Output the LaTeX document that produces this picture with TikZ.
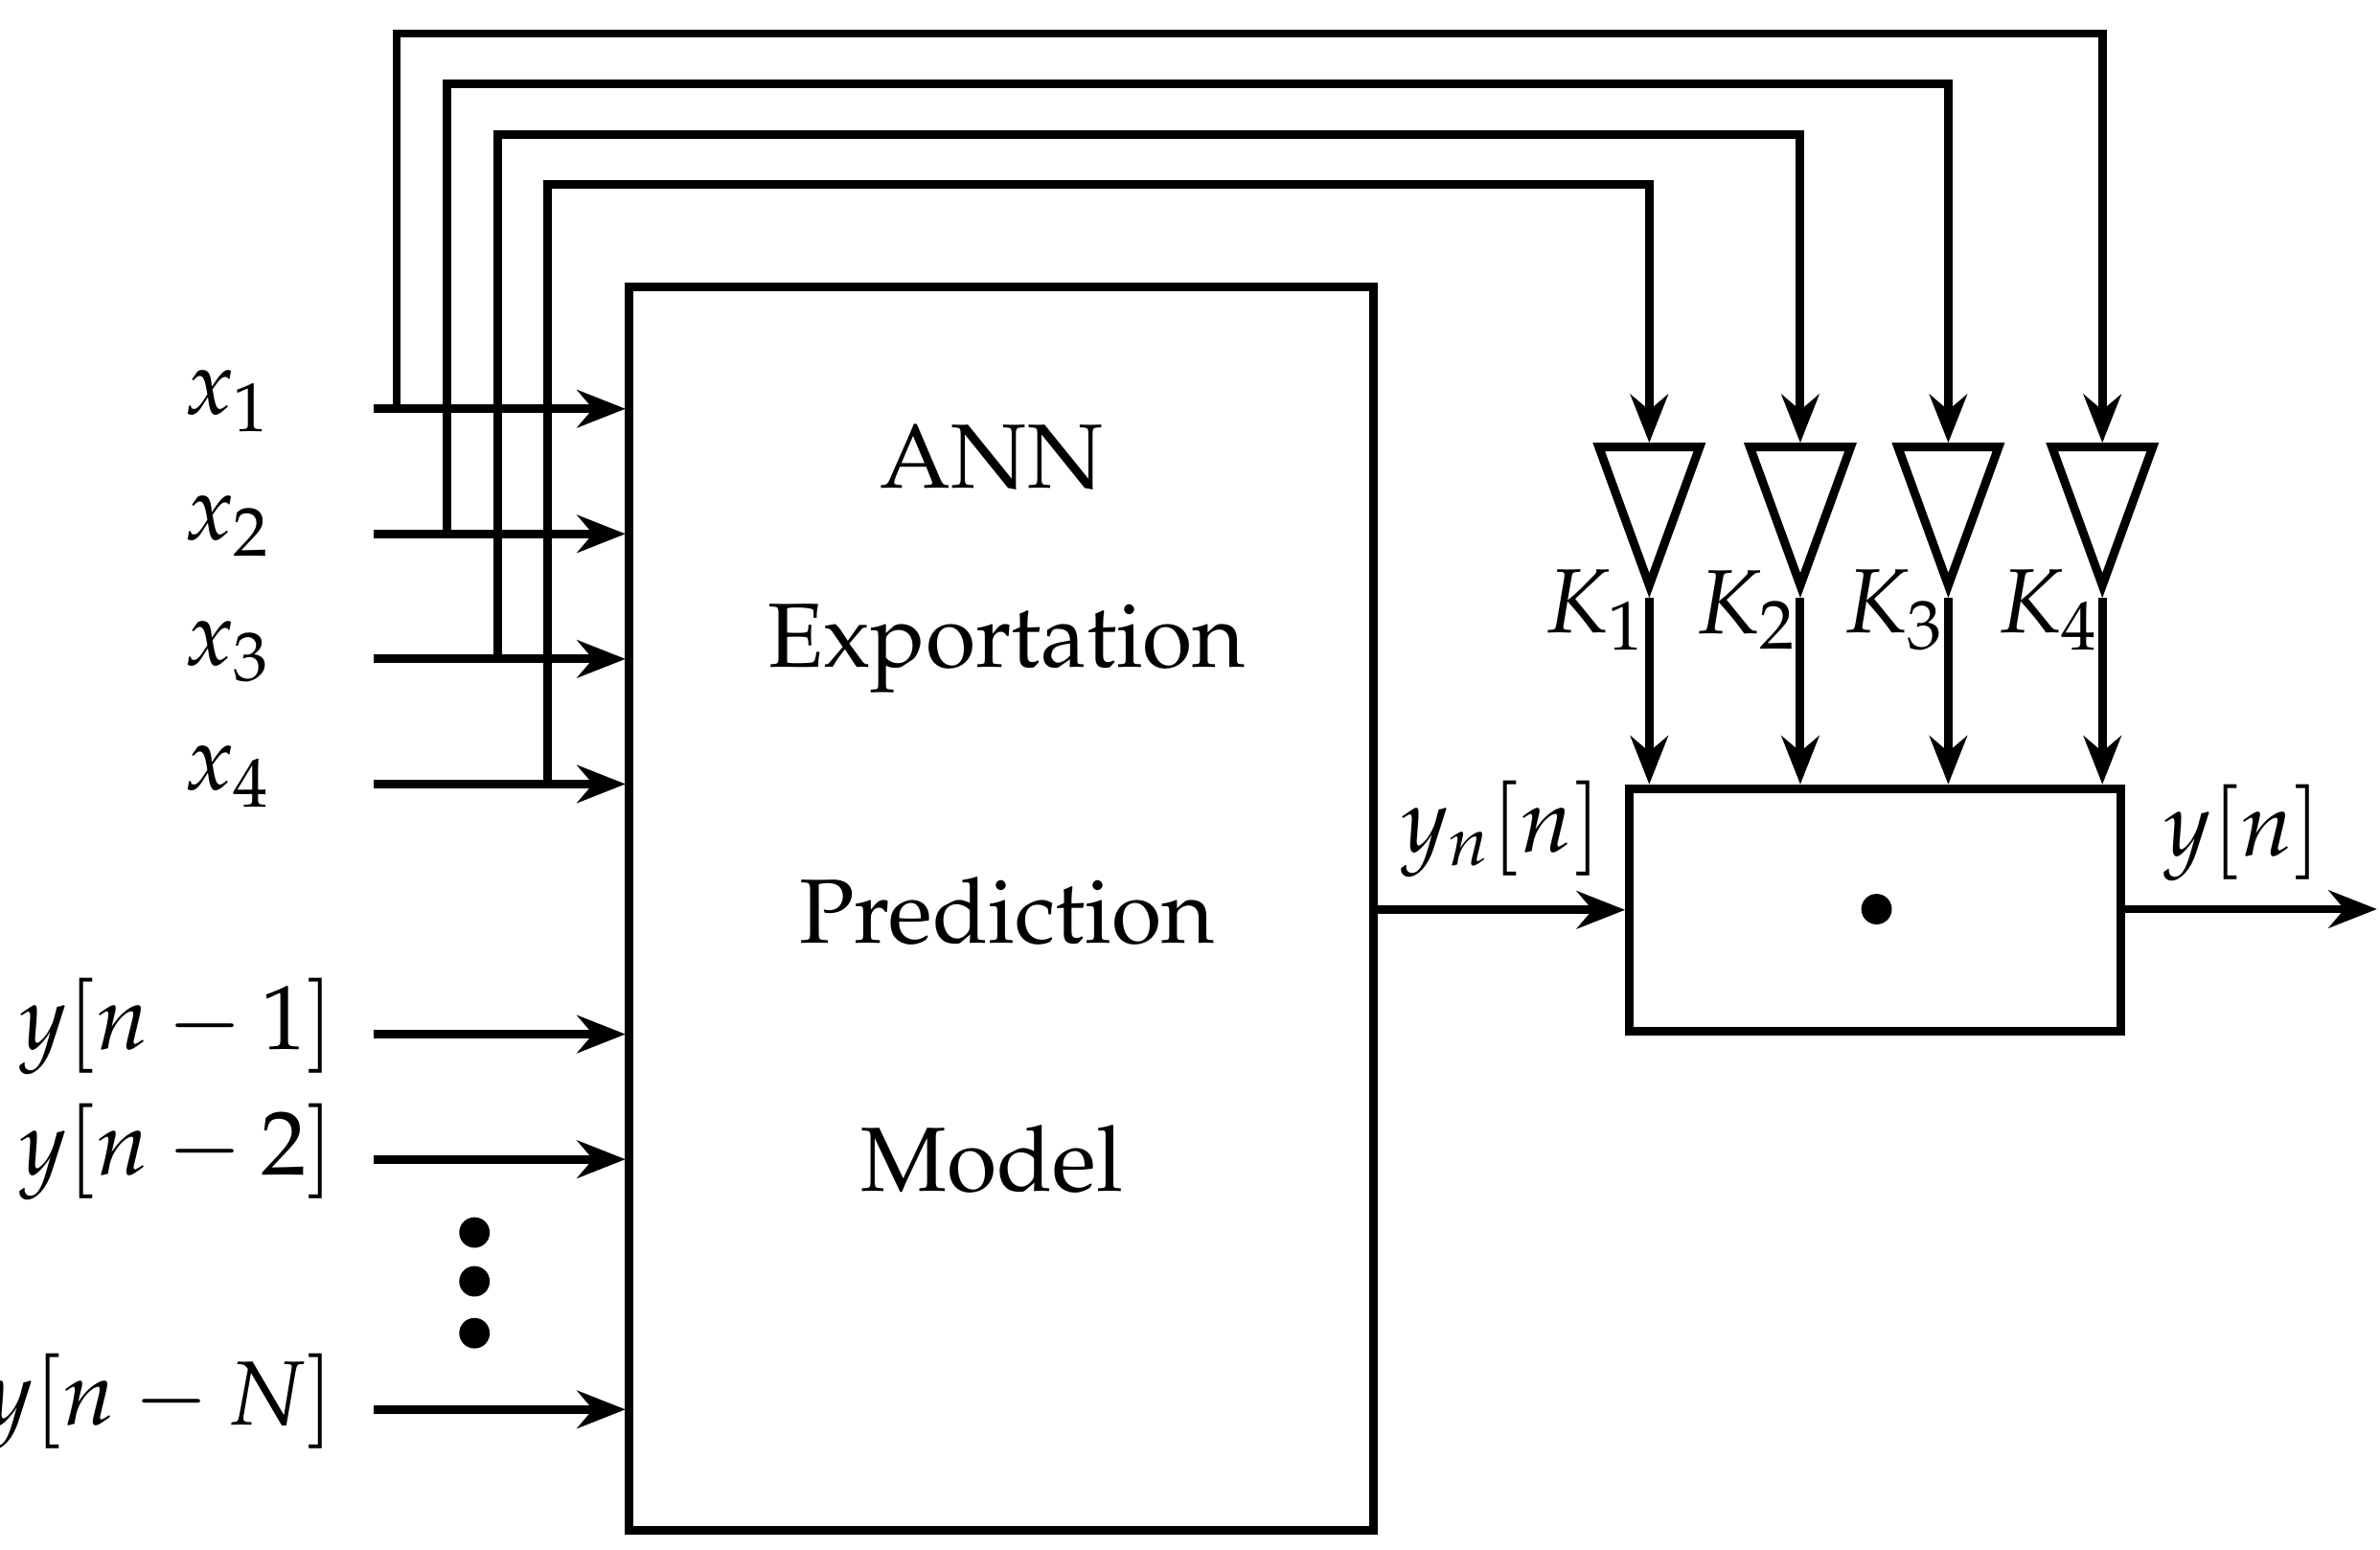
\documentclass[tikz,border=0pt]{standalone}
\usepackage[T1]{fontenc}
\usepackage{mathpazo}
\usetikzlibrary{arrows.meta,shapes.geometric}
\tikzset{
  wire/.style={line width=1.6pt},
  sig/.style={wire,-{Stealth[length=9pt,width=7pt]}},
  lbl/.style={font=\fontsize{17}{19}\selectfont},
  gain/.style={draw,line width=1.6pt,isosceles triangle,shape border rotate=-90,
    isosceles triangle apex angle=40,minimum width=0.66cm,minimum height=0.88cm,inner sep=0pt,anchor=apex}
}
\begin{document}
\begin{tikzpicture}
\useasboundingbox (0,0) rectangle (15.6,10.16);
%blocks
\node[draw,wire,minimum width=4.88cm,minimum height=8.15cm,inner sep=0pt] (ann) at (6.56,4.205) {};
\node[draw,wire,minimum width=3.22cm,minimum height=1.59cm,inner sep=0pt] (mul) at (12.29,4.195) {};
\fill (12.3,4.2) circle (0.1) coordinate (dot);
\node[lbl] (t1) at (6.5,7.16) {ANN};
\node[lbl] (t2) at (6.6,5.91) {Exportation};
\node[lbl] (t3) at (6.6,4.19) {Prediction};
\node[lbl] (t4) at (6.5,2.56) {Model};
%inputs
\foreach \i/\k/\y/\tx/\top/\gx in {1/4/7.48/2.60/9.94/13.78,2/3/6.66/2.93/9.61/12.77,3/2/5.84/3.26/9.28/11.80,4/1/5.02/3.59/8.95/10.81}{
  \coordinate (xs\i) at (2.45,\y);
  \coordinate (xe\i) at (4.10,\y);
  \node[lbl,anchor=east] (xl\i) at (1.9,\y+0.05) {$x_\i$};
  \draw[sig] (xs\i) -- (xe\i);
  \node[gain] (k\i) at (\gx,6.24) {};
  \coordinate (tap\i) at (\tx,\y);
  \draw[sig] (tap\i) |- (\gx,\top) -- (k\i.north);
  \draw[sig] (k\i.apex) -- (k\i.apex |- mul.north);
  \node[lbl,anchor=east,inner sep=1pt] (kl\i) at (\gx+0.02,6.16) {$K_\k$};
}
\foreach \n/\y/\t in {1/3.38/{$y[n-1]$},2/2.56/{$y[n-2]$},N/0.92/{$y[n-N]$}}{
  \coordinate (ys\n) at (2.45,\y);
  \coordinate (ye\n) at (4.10,\y);
  \node[lbl,anchor=east] (yl\n) at (2.32,\y+0.05) {\t};
  \draw[sig] (ys\n) -- (ye\n);
}
\foreach \y in {2.08,1.76,1.42} \fill (3.11,\y) circle (0.1);
%outputs
\draw[sig] (ann.east |- mul.west) -- node[lbl,above=2pt] (ynl) {$y_n[n]$} (mul.west);
\coordinate (out) at (15.58,4.2);
\draw[sig] (mul.east |- out) -- (out);
\node[lbl] (yl) at (14.7,4.7) {$y[n]$};
\end{tikzpicture}
\end{document}
